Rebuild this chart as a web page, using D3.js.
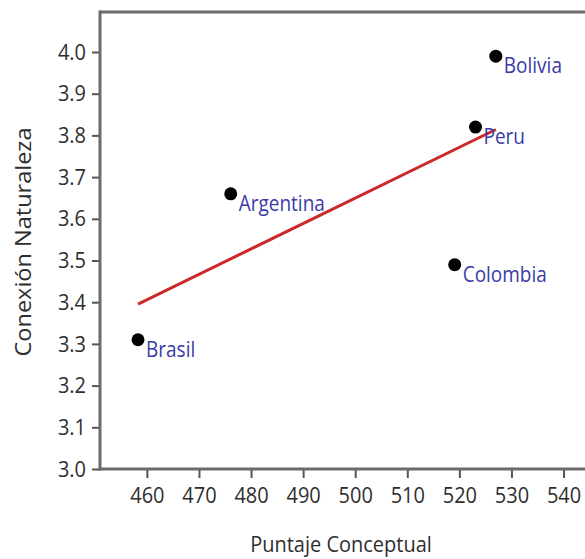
<!DOCTYPE html>
<html>
<head>
<meta charset="utf-8">
<script src="https://cdn.jsdelivr.net/npm/d3@7"></script>
<style>
  html, body { margin: 0; padding: 0; background: #fff; overflow: hidden; }
  svg { display: block; }
  text { font-family: "Open Sans", "Noto Sans", sans-serif; }
</style>
</head>
<body>
<svg id="chart" width="585" height="559"></svg>
<script>
// Country scores: conceptual test score vs. nature connection
const countries = ["Brasil", "Argentina", "Peru", "Bolivia", "Colombia"];
const puntaje   = [458.3, 476.1, 523.1, 527.0, 519.1];
const conexion  = [3.31, 3.66, 3.82, 3.99, 3.49];

const xTicks = [460, 470, 480, 490, 500, 510, 520, 530, 540];
const yTicks = [3.0, 3.1, 3.2, 3.3, 3.4, 3.5, 3.6, 3.7, 3.8, 3.9, 4.0];

const xTitle = "Puntaje Conceptual";
const yTitle = "Conexión Naturaleza";

const svg = d3.select("#chart");

const plot = { left: 100, right: 600, top: 12, bottom: 469 };

const x = d3.scaleLinear().domain([451, 547]).range([plot.left, plot.right]);
const y = d3.scaleLinear().domain([3.0, 4.0]).range([plot.bottom, 52]);

const axisColor = "#6b6b6b";
const textColor = "#2e2e2e";
const tall = 1.12; // glyphs are drawn slightly taller than wide

// Frame (top edge; left and bottom come from the axes)
svg.append("line")
  .attr("x1", plot.left).attr("x2", plot.right)
  .attr("y1", plot.top).attr("y2", plot.top)
  .attr("stroke", axisColor).attr("stroke-width", 3);

// Y axis
const gy = svg.append("g")
  .attr("transform", `translate(${plot.left},0)`)
  .call(d3.axisLeft(y).tickValues(yTicks).tickFormat(d3.format(".1f")).tickSize(8).tickPadding(6));
gy.select(".domain").remove();
gy.append("line")
  .attr("x1", 0).attr("x2", 0)
  .attr("y1", plot.top - 1.5).attr("y2", plot.bottom + 1.5)
  .attr("stroke", axisColor).attr("stroke-width", 3);
gy.selectAll(".tick line").attr("stroke", "#555").attr("stroke-width", 2);
gy.selectAll(".tick text")
  .attr("fill", textColor)
  .attr("transform", `scale(1,${tall})`)
  .style("font-size", "20px");

// X axis
const gx = svg.append("g")
  .attr("transform", `translate(0,${plot.bottom})`)
  .call(d3.axisBottom(x).tickValues(xTicks).tickFormat(d3.format("d")).tickSize(9).tickPadding(7));
gx.select(".domain").remove();
gx.append("line")
  .attr("x1", plot.left - 1.5).attr("x2", plot.right)
  .attr("y1", 0).attr("y2", 0)
  .attr("stroke", axisColor).attr("stroke-width", 3);
gx.selectAll(".tick line").attr("stroke", "#555").attr("stroke-width", 2);
gx.selectAll(".tick text")
  .attr("fill", textColor)
  .attr("transform", `scale(1,${tall})`)
  .style("font-size", "20px");

// Axis titles
svg.append("text")
  .attr("transform", `translate(341,552) scale(1,${tall})`)
  .attr("text-anchor", "middle")
  .attr("fill", textColor)
  .style("font-size", "20px")
  .text(xTitle);

svg.append("text")
  .attr("transform", `translate(31,242) scale(1,${tall}) rotate(-90)`)
  .attr("text-anchor", "middle")
  .attr("fill", textColor)
  .style("font-size", "21px")
  .text(yTitle);

// Least-squares fit line across the observed x range
const n = puntaje.length;
const mx = d3.mean(puntaje), my = d3.mean(conexion);
let sxy = 0, sxx = 0;
for (let i = 0; i < n; i++) {
  sxy += (puntaje[i] - mx) * (conexion[i] - my);
  sxx += (puntaje[i] - mx) ** 2;
}
const slope = sxy / sxx;
const intercept = my - slope * mx;
const [xmin, xmax] = d3.extent(puntaje);

svg.append("line")
  .attr("x1", x(xmin)).attr("y1", y(intercept + slope * xmin))
  .attr("x2", x(xmax)).attr("y2", y(intercept + slope * xmax))
  .attr("stroke", "#cc2a2a").attr("stroke-width", 3);

// Points and labels
const pts = countries.map((c, i) => ({ name: c, px: puntaje[i], py: conexion[i] }));

svg.append("g").selectAll("circle")
  .data(pts).join("circle")
  .attr("cx", d => x(d.px)).attr("cy", d => y(d.py))
  .attr("r", 6.5)
  .attr("fill", "#000");

svg.append("g").selectAll("text")
  .data(pts).join("text")
  .attr("transform", d => `translate(${x(d.px) + 8},${y(d.py) + 17}) scale(1,${tall})`)
  .attr("fill", "#3b3ba8")
  .style("font-size", "19px")
  .text(d => d.name);
</script>
</body>
</html>
